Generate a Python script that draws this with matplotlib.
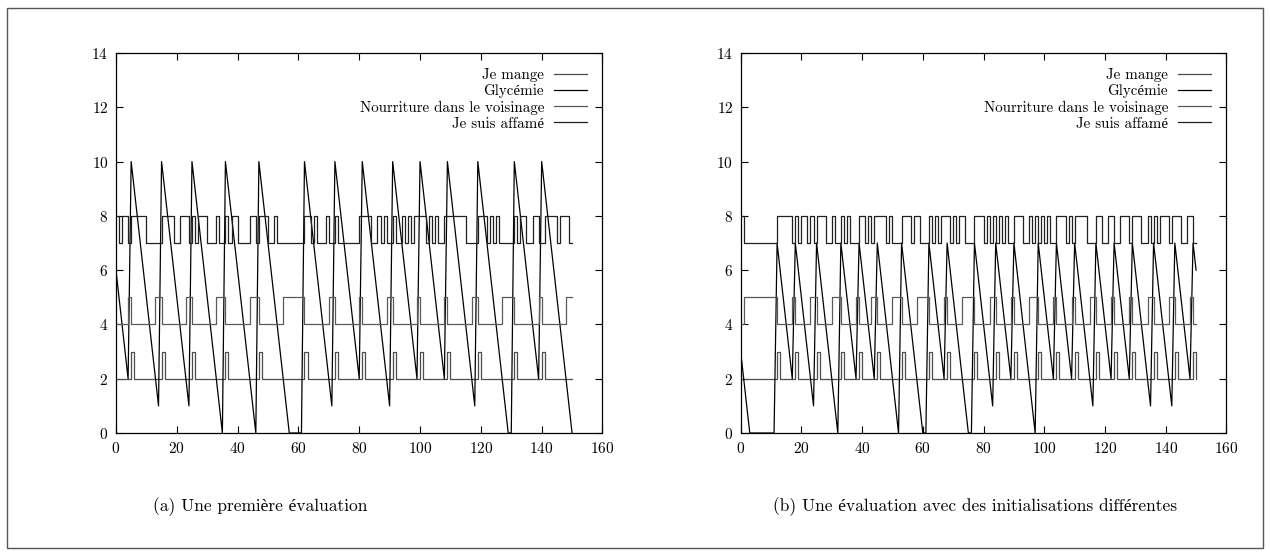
import numpy as np
import matplotlib
matplotlib.use("Agg")
import matplotlib.pyplot as plt
from matplotlib.patches import Rectangle

plt.rcParams['font.family'] = ['cmr10', 'Liberation Serif', 'DejaVu Serif']
plt.rcParams['axes.formatter.use_mathtext'] = True

# time axis (one sample per step)
t = np.arange(151)

# --- (a) Une première évaluation ---
gly_a_x = [0, 4, 5, 14, 15, 24, 25, 35, 36, 46, 47, 57, 61, 62, 71, 72, 80, 81, 90, 91,
           99, 100, 108, 109, 118, 119, 129, 130, 131, 139, 140, 150]
gly_a_y = [6, 2, 10, 1, 10, 1, 10, 0, 10, 0, 10, 0, 0, 10, 1, 10, 2, 10, 1, 10,
           2, 10, 2, 10, 1, 10, 0, 0, 10, 2, 10, 0]
mange_a = [(5, 6), (15, 16), (25, 26), (36, 37), (47, 48), (62, 63), (72, 73), (81, 82),
           (91, 92), (100, 101), (109, 110), (119, 120), (131, 132), (140, 141)]
nourr_a = [(4, 5), (13, 15), (23, 25), (33, 36), (44, 47), (55, 62), (70, 72), (80, 81),
           (89, 91), (99, 100), (108, 109), (117, 119), (127, 131), (139, 140), (148, 151)]
affame_a = [(0, 1), (2, 4), (5, 10), (15, 19), (21, 24), (25, 26), (27, 30), (33, 34),
            (36, 37), (38, 40), (44, 46), (47, 50), (52, 53), (62, 64), (65, 66), (69, 70),
            (72, 73), (80, 84), (86, 87), (88, 89), (91, 92), (94, 95), (96, 97), (98, 102),
            (103, 104), (105, 106), (108, 115), (119, 122), (123, 124), (125, 126),
            (131, 132), (133, 135), (137, 139), (141, 145), (146, 149)]

# --- (b) Une évaluation avec des initialisations différentes ---
gly_b_x = [0, 3, 11, 12, 17, 18, 24, 25, 32, 33, 38, 39, 44, 45, 52, 53, 60, 61, 62, 67,
           68, 75, 76, 77, 83, 84, 89, 90, 97, 98, 103, 104, 109, 110, 116, 117, 122, 123,
           128, 129, 135, 136, 142, 143, 148, 149, 150]
gly_b_y = [3, 0, 0, 7, 2, 7, 1, 7, 0, 7, 2, 7, 2, 7, 0, 7, 0, 0, 7, 2,
           7, 0, 0, 7, 1, 7, 2, 7, 0, 7, 2, 7, 2, 7, 1, 7, 2, 7,
           2, 7, 1, 7, 1, 7, 2, 7, 6]
mange_b = [(12, 13), (18, 19), (25, 26), (33, 34), (39, 40), (45, 46), (53, 54), (62, 63),
           (68, 69), (77, 78), (84, 85), (90, 91), (98, 99), (104, 105), (110, 111),
           (117, 118), (123, 124), (129, 130), (136, 137), (143, 144), (149, 150)]
nourr_b = [(1, 12), (17, 18), (23, 25), (30, 33), (38, 39), (43, 45), (50, 53), (58, 62),
           (67, 68), (73, 77), (82, 84), (89, 90), (95, 98), (103, 104), (109, 110),
           (115, 117), (122, 123), (128, 129), (134, 136), (141, 143), (148, 149)]
affame_b = [(0, 1), (12, 17), (18, 19), (20, 22), (23, 24), (25, 28), (30, 31), (33, 34),
            (35, 36), (39, 41), (42, 43), (44, 48), (49, 50), (53, 56), (57, 59), (62, 63),
            (64, 65), (66, 69), (70, 71), (72, 74), (77, 80), (81, 82), (83, 84), (85, 86),
            (87, 88), (90, 93), (95, 96), (97, 98), (99, 100), (101, 102), (104, 107),
            (108, 109), (110, 114), (117, 119), (121, 123), (125, 128), (129, 132),
            (134, 135), (136, 137), (138, 141), (142, 145), (147, 149)]

labels = ["Je mange", "Glycémie", "Nourriture dans le voisinage", "Je suis affamé"]
captions = ["(a) Une première évaluation",
            "(b) Une évaluation avec des initialisations différentes"]


def pulses(intervals, base):
    # binary signal (0/1) shifted to its own level
    v = np.zeros(len(t))
    for s, e in intervals:
        v[s:e] = 1
    return base + v


def draw(ax, gx, gy, mange, nourr, affame):
    ax.step(t, pulses(mange, 2), where='post', color='#4d4d4d', lw=0.9, label=labels[0])
    ax.plot(gx, gy, color='black', lw=0.9, label=labels[1])
    ax.step(t, pulses(nourr, 4), where='post', color='#5a5a5a', lw=0.9, label=labels[2])
    ax.step(t, pulses(affame, 7), where='post', color='#202020', lw=0.9, label=labels[3])

    ax.set_xlim(0, 160)
    ax.set_ylim(0, 14)
    ax.set_xticks(np.arange(0, 161, 20))
    ax.set_yticks(np.arange(0, 15, 2))
    ax.tick_params(direction='in', top=True, right=True, length=5, width=0.8,
                   labelsize=11, pad=5.5)
    for sp in ax.spines.values():
        sp.set_linewidth(0.9)
        sp.set_zorder(5)
    ax.legend(loc='upper right', frameon=False, markerfirst=False, fontsize=10.8,
              handlelength=2.2, handletextpad=0.7, labelspacing=0.15,
              borderaxespad=0.6)


fig = plt.figure(figsize=(12.7, 5.55), dpi=100)

ax1 = fig.add_axes([0.0913, 0.2198, 0.3831, 0.6847])
draw(ax1, gly_a_x, gly_a_y, mange_a, nourr_a, affame_a)

ax2 = fig.add_axes([0.5832, 0.2198, 0.3825, 0.6847])
draw(ax2, gly_b_x, gly_b_y, mange_b, nourr_b, affame_b)

fig.text(0.205, 0.0865, captions[0], ha='center', va='center', fontsize=12.5)
fig.text(0.768, 0.0865, captions[1], ha='center', va='center', fontsize=12.5)

# outer frame around both sub-figures
fig.patches.append(Rectangle((7 / 1270, 7 / 555), 1256 / 1270, 540 / 555,
                             transform=fig.transFigure, fill=False,
                             edgecolor='#555555', lw=1))

fig.savefig("out.png", dpi=100)
